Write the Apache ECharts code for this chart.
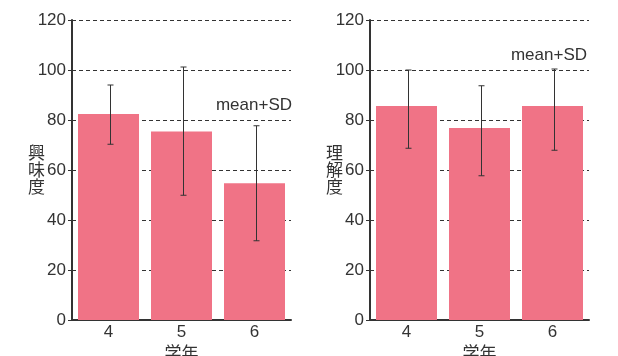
<!DOCTYPE html>
<html><head><meta charset="utf-8">
<script src="https://cdn.jsdelivr.net/npm/echarts@6/dist/echarts.min.js"></script>
<style>html,body{margin:0;padding:0;background:#fff;}#c{width:618px;height:356px;}</style>
</head><body><div id="c"></div>
<script>
const grades = ['4', '5', '6'];
const interestMean = [82.4, 75.4, 54.7];
const interestLow = [70.3, 49.9, 31.7];
const interestHigh = [94.0, 101.2, 77.7];
const understandMean = [85.6, 76.8, 85.6];
const understandLow = [68.7, 57.7, 67.9];
const understandHigh = [100.0, 93.7, 100.4];
const yTicks = [0, 20, 40, 60, 80, 100, 120];
const xName = '学年';
const yNames = ['興味度', '理解度'];
const noteText = 'mean+SD';

const font = '"Liberation Sans", Arial, sans-serif';
const cjk = '"Noto Sans CJK JP", "Liberation Sans", sans-serif';
const axisColor = '#333';
const barColor = '#f07386';
const fs = 17;

function vert(s){ return s.split('').join('\n'); }

function xAxis(i){
  return {
    type: 'category', gridIndex: i, data: grades,
    name: xName, nameLocation: 'middle', nameGap: 24, nameMoveOverlap: false,
    nameTextStyle: {fontFamily: cjk, fontSize: fs, color: axisColor},
    axisLine: {lineStyle: {color: axisColor, width: 2}},
    axisTick: {show: false},
    axisLabel: {fontFamily: font, fontSize: fs, color: axisColor, margin: 4},
    splitLine: {show: false}
  };
}
function yAxis(i){
  return {
    type: 'value', gridIndex: i, min: yTicks[0], max: yTicks[yTicks.length-1], interval: 20,
    name: vert(yNames[i]), nameLocation: 'middle', nameGap: 27, nameRotate: 0, nameMoveOverlap: false,
    nameTextStyle: {fontFamily: cjk, fontSize: 17, color: axisColor, lineHeight: 17},
    axisLine: {show: true, lineStyle: {color: axisColor, width: 2}},
    axisTick: {show: true, length: 4, lineStyle: {color: axisColor}},
    axisLabel: {fontFamily: font, fontSize: fs, color: axisColor, margin: 6},
    splitLine: {show: true, lineStyle: {color: '#333', type: [4, 3], width: 1}}
  };
}
function errSeries(i, low, high){
  return {
    type: 'custom', xAxisIndex: i, yAxisIndex: i, z: 5,
    data: grades.map((g, k) => [k, low[k], high[k]]),
    renderItem: function(params, api){
      const x = api.value(0);
      const lo = api.coord([x, api.value(1)]);
      const hi = api.coord([x, api.value(2)]);
      const cx = Math.round(lo[0]) + 1.5;
      const w = 3;
      const st = {stroke: '#333', lineWidth: 1};
      return {type: 'group', children: [
        {type: 'line', shape: {x1: cx, y1: hi[1], x2: cx, y2: lo[1]}, style: st},
        {type: 'line', shape: {x1: cx - w, y1: hi[1], x2: cx + w, y2: hi[1]}, style: st},
        {type: 'line', shape: {x1: cx - w, y1: lo[1], x2: cx + w, y2: lo[1]}, style: st}
      ]};
    }
  };
}

const chart = echarts.init(document.getElementById('c'), null, {renderer: 'canvas'});
chart.setOption({
  animation: false,
  backgroundColor: '#fff',
  grid: [
    {left: 72, top: 20, width: 219, height: 300, outerBoundsMode: 'none', containLabel: false},
    {left: 370, top: 20, width: 219, height: 300, outerBoundsMode: 'none', containLabel: false}
  ],
  xAxis: [xAxis(0), xAxis(1)],
  yAxis: [yAxis(0), yAxis(1)],
  series: [
    {type: 'bar', xAxisIndex: 0, yAxisIndex: 0, data: interestMean, barWidth: 61, itemStyle: {color: barColor}},
    errSeries(0, interestLow, interestHigh),
    {type: 'bar', xAxisIndex: 1, yAxisIndex: 1, data: understandMean, barWidth: 61, itemStyle: {color: barColor}},
    errSeries(1, understandLow, understandHigh)
  ],
  graphic: [
    {type: 'text', right: 618 - 292, top: 97, style: {text: noteText, fontFamily: font, fontSize: fs, fill: axisColor}},
    {type: 'text', right: 618 - 587, top: 47, style: {text: noteText, fontFamily: font, fontSize: fs, fill: axisColor}}
  ]
});
</script></body></html>
